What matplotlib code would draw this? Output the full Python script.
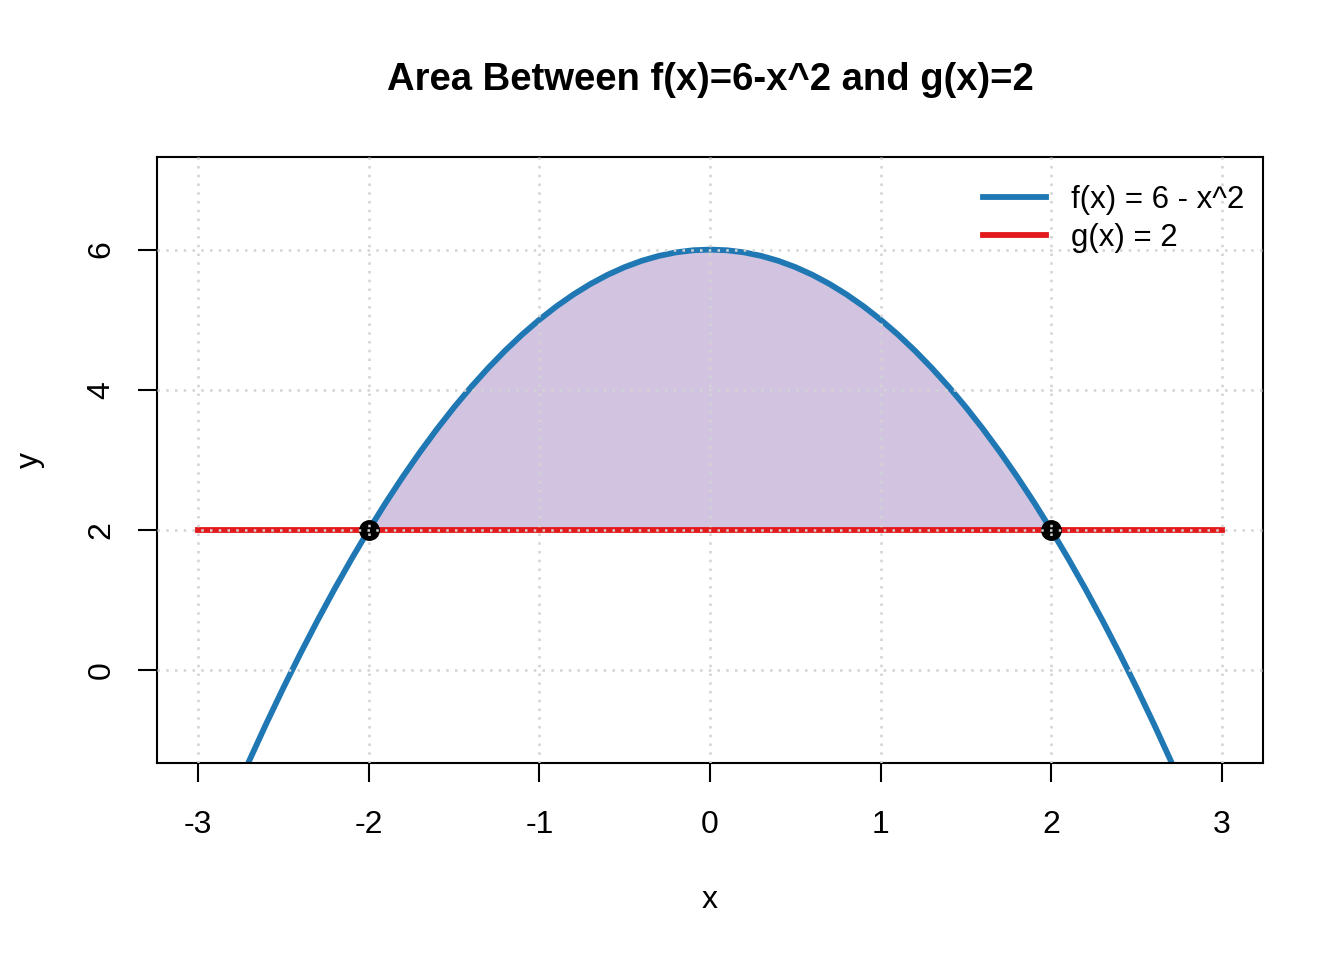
import numpy as np
import matplotlib
matplotlib.use("Agg")
import matplotlib.pyplot as plt

plt.rcParams['font.family'] = ['Liberation Sans', 'DejaVu Sans']

# curve samples
x_vals = [-3.0, -2.9, -2.8, -2.7, -2.6, -2.5, -2.4, -2.3, -2.2, -2.1,
          -2.0, -1.9, -1.8, -1.7, -1.6, -1.5, -1.4, -1.3, -1.2, -1.1,
          -1.0, -0.9, -0.8, -0.7, -0.6, -0.5, -0.4, -0.3, -0.2, -0.1,
          0.0,
          0.1, 0.2, 0.3, 0.4, 0.5, 0.6, 0.7, 0.8, 0.9, 1.0,
          1.1, 1.2, 1.3, 1.4, 1.5, 1.6, 1.7, 1.8, 1.9, 2.0,
          2.1, 2.2, 2.3, 2.4, 2.5, 2.6, 2.7, 2.8, 2.9, 3.0]
f_vals = [-3.0, -2.41, -1.84, -1.29, -0.76, -0.25, 0.24, 0.71, 1.16, 1.59,
          2.0, 2.39, 2.76, 3.11, 3.44, 3.75, 4.04, 4.31, 4.56, 4.79,
          5.0, 5.19, 5.36, 5.51, 5.64, 5.75, 5.84, 5.91, 5.96, 5.99,
          6.0,
          5.99, 5.96, 5.91, 5.84, 5.75, 5.64, 5.51, 5.36, 5.19, 5.0,
          4.79, 4.56, 4.31, 4.04, 3.75, 3.44, 3.11, 2.76, 2.39, 2.0,
          1.59, 1.16, 0.71, 0.24, -0.25, -0.76, -1.29, -1.84, -2.41, -3.0]
g_vals = [2.0] * len(x_vals)

# intersection points
ix = [-2, 2]
iy = [2, 2]

x_ticks = [-3, -2, -1, 0, 1, 2, 3]
y_ticks = [0, 2, 4, 6]

blue = '#1F78B4'
red = '#E31A1C'
fill_col = '#D2C4E0'

fig = plt.figure(figsize=(13.44, 9.6), dpi=100)
ax = fig.add_axes([157/1344, 1 - 763/960, 1106/1344, 606/960])

xa = np.array(x_vals)
fa = np.array(f_vals)
ga = np.array(g_vals)
between = (xa >= -2) & (xa <= 2)
ax.fill_between(xa, ga, fa, where=between, color=fill_col, lw=0, zorder=1)

ax.plot(x_vals, f_vals, color=blue, lw=4.2, zorder=2, label='f(x) = 6 - x^2')
ax.plot(x_vals, g_vals, color=red, lw=4.2, zorder=2, label='g(x) = 2')
ax.plot(ix, iy, 'o', color='black', ms=14, zorder=3)

# grid on top, like grid() called last in base R
for xv in x_ticks:
    ax.axvline(xv, color='#D3D3D3', lw=1.8, ls=(0, (1, 2.5)), zorder=4)
for yv in y_ticks:
    ax.axhline(yv, color='#D3D3D3', lw=1.8, ls=(0, (1, 2.5)), zorder=4)

ax.set_xlim(-3.24, 3.24)
ax.set_ylim(-1.32, 7.32)
ax.set_xticks(x_ticks)
ax.set_yticks(y_ticks)
ax.set_xticklabels([str(v) for v in x_ticks], fontsize=23)
ax.set_yticklabels([str(v) for v in y_ticks], fontsize=23, rotation=90, va='center')
ax.tick_params(axis='both', direction='out', length=14, width=1.5)
ax.tick_params(axis='x', pad=20)
ax.tick_params(axis='y', pad=15)
for s in ax.spines.values():
    s.set_linewidth(1.5)

ax.set_xlabel('x', fontsize=23)
ax.set_ylabel('y', fontsize=23)
ax.xaxis.set_label_coords(0.5, (763 - 900) / 606)
ax.xaxis.label.set_va('center')
ax.yaxis.set_label_coords((30 - 157) / 1106, 0.5)
ax.yaxis.label.set_va('center')

fig.text(710/1344, 1 - 80/960, 'Area Between f(x)=6-x^2 and g(x)=2',
         fontsize=27.5, fontweight='bold', ha='center', va='center')

ax.legend(loc='upper right', frameon=False, fontsize=22.5, handlelength=2.0,
          handletextpad=0.8, labelspacing=0.25, borderaxespad=0.2,
          bbox_to_anchor=(1.0, 1 - 9/606))

fig.savefig('out.png', dpi=100)
